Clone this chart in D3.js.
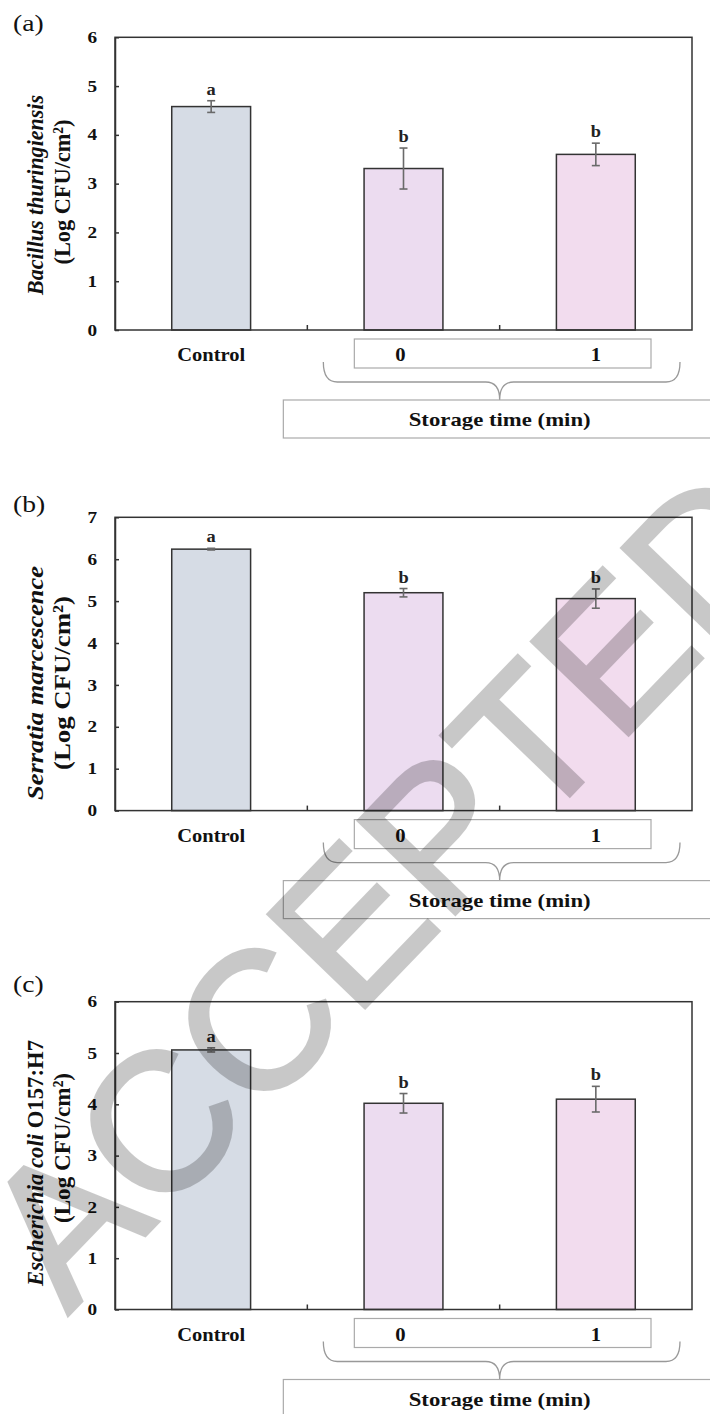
<!DOCTYPE html>
<html><head><meta charset="utf-8">
<script src="https://cdn.jsdelivr.net/npm/d3@7"></script>
<style>html,body{margin:0;padding:0;background:#fff}</style>
</head><body>
<svg id="chart" width="710" height="1414"></svg>
<script>
// ---------- data ----------
const categories = ["Control", "0", "1"];
const panelLabels = ["(a)", "(b)", "(c)"];
const speciesItalic = ["Bacillus thuringiensis", "Serratia marcescence", "Escherichia coli"];
const speciesPlain = ["", "", " O157:H7"];
const unitLabel = "(Log CFU/cm²)";
const groupLabel = "Storage time (min)";
const yMaxValues = [6, 7, 6];
const meansA = [4.58, 3.31, 3.60];
const errorsA = [0.12, 0.42, 0.23];
const lettersA = ["a", "b", "b"];
const meansB = [6.24, 5.20, 5.06];
const errorsB = [0.02, 0.10, 0.23];
const lettersB = ["a", "b", "b"];
const meansC = [5.06, 4.02, 4.10];
const errorsC = [0.04, 0.19, 0.25];
const lettersC = ["a", "b", "b"];
const watermarkText = "ACCEPTED";

// ---------- style / layout ----------
const barColors = ["#d6dce5", "#ecdcf0", "#f2dcee"];
const serif = "'Liberation Serif','Times New Roman',serif";
const plotLeft = 115, plotRight = 692;
const panelTops = [37.3, 517.3, 1001.7];
const panelBottoms = [330, 810.6, 1309.5];
const labelBaselines = [31, 512, 992];
// y-title geometry per panel: [center of line 1, length of line 1, center of line 2, length of line 2]
const titleGeom = [[195, 200, 192, 145], [683, 234, 683, 174], [1163, 246, 1148, 150]];

const svg = d3.select("#chart");
const panels = [
  {means: meansA, errs: errorsA, letters: lettersA},
  {means: meansB, errs: errorsB, letters: lettersB},
  {means: meansC, errs: errorsC, letters: lettersC}
];

function stext(g, x, y, str, size, sx, opts = {}) {
  const t = g.append("text")
    .attr("transform", `translate(${x},${y}) scale(${sx},1)`)
    .attr("text-anchor", opts.anchor || "middle")
    .attr("font-family", serif)
    .attr("font-size", size)
    .attr("font-weight", opts.weight || "bold")
    .attr("fill", opts.fill || "#111")
    .text(str);
  if (opts.len) t.attr("textLength", opts.len / sx).attr("lengthAdjust", "spacingAndGlyphs");
  return t;
}

const x = d3.scaleBand().domain(categories).range([plotLeft, plotRight]).paddingInner(0).paddingOuter(0);
const barFrac = 0.41;

panels.forEach((p, i) => {
  const top = panelTops[i], bottom = panelBottoms[i];
  const y = d3.scaleLinear().domain([0, yMaxValues[i]]).range([bottom, top]);
  const g = svg.append("g");

  // panel label
  stext(g, 13, labelBaselines[i], panelLabels[i], 23, 1.2, {anchor: "start", weight: "normal"});

  // bars
  const bw = x.bandwidth() * barFrac;
  g.selectAll("rect.bar").data(categories).join("rect")
    .attr("class", "bar")
    .attr("x", d => x(d) + (x.bandwidth() - bw) / 2)
    .attr("y", (d, j) => y(p.means[j]))
    .attr("width", bw)
    .attr("height", (d, j) => y(0) - y(p.means[j]))
    .attr("fill", (d, j) => barColors[j])
    .attr("stroke", "#333").attr("stroke-width", 1.5);

  // error bars
  const cx = d => x(d) + x.bandwidth() / 2;
  const eg = g.append("g").attr("stroke", "#6a6a6a").attr("stroke-width", 1.6);
  categories.forEach((c, j) => {
    const hi = y(p.means[j] + p.errs[j]), lo = y(p.means[j] - p.errs[j]);
    eg.append("line").attr("x1", cx(c)).attr("x2", cx(c)).attr("y1", hi).attr("y2", lo);
    eg.append("line").attr("x1", cx(c) - 4).attr("x2", cx(c) + 4).attr("y1", hi).attr("y2", hi);
    eg.append("line").attr("x1", cx(c) - 4).attr("x2", cx(c) + 4).attr("y1", lo).attr("y2", lo);
    stext(g, cx(c), hi - 6, p.letters[j], 16, 1.15, {fill: "#222"});
  });

  // frame
  g.append("rect").attr("x", plotLeft).attr("y", top)
    .attr("width", plotRight - plotLeft).attr("height", bottom - top)
    .attr("fill", "none").attr("stroke", "#333").attr("stroke-width", 1.5);

  // y axis
  const ax = g.append("g").attr("transform", `translate(${plotLeft},0)`)
    .call(d3.axisLeft(y).ticks(yMaxValues[i]).tickFormat(d3.format("d")).tickSizeInner(-4).tickSizeOuter(0).tickPadding(15));
  ax.select(".domain").attr("stroke", "#333").attr("stroke-width", 1.5);
  ax.selectAll(".tick line").attr("stroke", "#333").attr("stroke-width", 1.5);
  ax.selectAll(".tick text")
    .attr("transform", "scale(1.2,1)")
    .attr("font-family", serif).attr("font-size", 16).attr("font-weight", "bold").attr("fill", "#111");

  // bottom band ticks (between categories)
  categories.slice(1).forEach(c => {
    g.append("line").attr("x1", x(c)).attr("x2", x(c)).attr("y1", bottom).attr("y2", bottom - 5)
      .attr("stroke", "#333").attr("stroke-width", 1.5);
  });

  // y title (two lines)
  const tg = titleGeom[i];
  const t1 = g.append("text")
    .attr("transform", `translate(43,${tg[0]}) scale(1.2,1) rotate(-90)`)
    .attr("text-anchor", "middle").attr("font-family", serif).attr("font-size", 20)
    .attr("font-weight", "bold").attr("fill", "#111")
    .attr("textLength", tg[1]).attr("lengthAdjust", "spacingAndGlyphs");
  t1.append("tspan").attr("font-style", "italic").text(speciesItalic[i]);
  if (speciesPlain[i]) t1.append("tspan").text(speciesPlain[i]);
  g.append("text")
    .attr("transform", `translate(70,${tg[2]}) scale(1.2,1) rotate(-90)`)
    .attr("text-anchor", "middle").attr("font-family", serif).attr("font-size", 20)
    .attr("font-weight", "bold").attr("fill", "#111")
    .attr("textLength", tg[3]).attr("lengthAdjust", "spacingAndGlyphs")
    .text(unitLabel);

  // category labels
  stext(g, cx("Control"), bottom + 31, "Control", 18, 1.13, {len: 68});
  const boxL = x("0") + 47, boxR = x("1") + x.bandwidth() - 41;
  g.append("rect").attr("x", boxL).attr("y", bottom + 9).attr("width", boxR - boxL).attr("height", 29)
    .attr("fill", "none").attr("stroke", "#aaa").attr("stroke-width", 1.2);
  stext(g, cx("0") - 3, bottom + 31, "0", 18, 1.15);
  stext(g, cx("1"), bottom + 31, "1", 18, 1.15);

  // brace
  const bl = x("0") + 16, br = x("1") + x.bandwidth() - 12, tip = x("1");
  const b1 = bottom + 32, b2 = bottom + 52, b3 = bottom + 70;
  g.append("path")
    .attr("d", `M${bl},${b1} Q${bl},${b2} ${bl + 14},${b2} L${tip - 14},${b2} Q${tip},${b2} ${tip},${b3} Q${tip},${b2} ${tip + 14},${b2} L${br - 14},${b2} Q${br},${b2} ${br},${b1}`)
    .attr("fill", "none").attr("stroke", "#999").attr("stroke-width", 1.3);

  // group label box
  g.append("rect").attr("x", x("0") - 24).attr("y", b3).attr("width", 710 - (x("0") - 24) + 5).attr("height", 38)
    .attr("fill", "none").attr("stroke", "#aaa").attr("stroke-width", 1.2);
  stext(g, tip, bottom + 96, groupLabel, 18, 1.26, {len: 182});
});

// watermark
svg.append("g").attr("opacity", 0.21)
  .append("text")
  .attr("transform", "translate(68,1315) rotate(-46)")
  .attr("text-anchor", "start")
  .attr("font-family", "'Liberation Sans',Arial,sans-serif").attr("font-size", 195)
  .attr("fill", "#000").attr("stroke", "#000").attr("stroke-width", 4).attr("stroke-linejoin", "miter")
  .text(watermarkText);
</script>
</body></html>
